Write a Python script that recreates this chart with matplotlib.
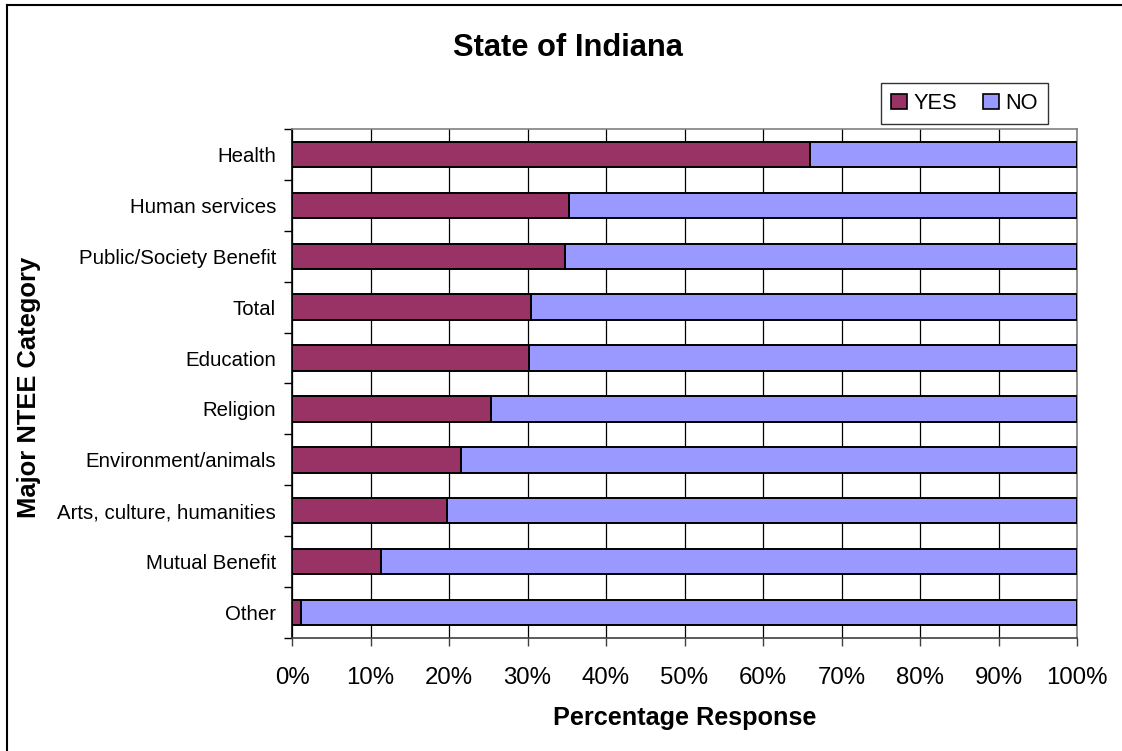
import matplotlib
matplotlib.use("Agg")
import matplotlib.pyplot as plt
from matplotlib.lines import Line2D
from matplotlib.patches import Patch
import numpy as np

plt.rcParams['font.family'] = ['Liberation Sans', 'DejaVu Sans']

# Survey responses by major NTEE category (percent of organisations)
categories = [
    "Health",
    "Human services",
    "Public/Society Benefit",
    "Total",
    "Education",
    "Religion",
    "Environment/animals",
    "Arts, culture, humanities",
    "Mutual Benefit",
    "Other",
]
yes_pct = [66.0, 35.3, 34.8, 30.5, 30.2, 25.3, 21.5, 19.8, 11.4, 1.1]
no_pct = [34.0, 64.7, 65.2, 69.5, 69.8, 74.7, 78.5, 80.2, 88.6, 98.9]
x_ticks = [0, 10, 20, 30, 40, 50, 60, 70, 80, 90, 100]
x_tick_labels = [f"{v}%" for v in x_ticks]

YES_COLOR = "#993366"
NO_COLOR = "#9999FF"

W, H = 1122, 751
fig = plt.figure(figsize=(W / 100, H / 100), dpi=100)
fig.patch.set_facecolor("white")

# plot area in pixel terms
left, right, top, bottom = 292, 1077, 129, 638
ax = fig.add_axes([left / W, 1 - bottom / H, (right - left) / W, (bottom - top) / H])

n = len(categories)
ypos = np.arange(n)[::-1]  # first category at the top
bar_h = 0.5

ax.barh(ypos, yes_pct, height=bar_h, color=YES_COLOR, edgecolor="black",
        linewidth=1.4, zorder=3)
ax.barh(ypos, no_pct, left=yes_pct, height=bar_h, color=NO_COLOR,
        edgecolor="black", linewidth=1.4, zorder=3)

ax.set_xlim(0, 100)
ax.set_ylim(-0.5, n - 0.5)

# x axis
ax.set_xticks(x_ticks)
ax.set_xticklabels(x_tick_labels, fontsize=17.3)
ax.tick_params(axis="x", direction="out", length=6, width=1, color="#404040",
               pad=15)
ax.xaxis.grid(True, color="black", linewidth=0.9, zorder=0)
ax.set_axisbelow(True)

# y axis: labels at centres, tick marks at category boundaries
ax.set_yticks(ypos)
ax.set_yticklabels(categories, fontsize=14.7)
ax.tick_params(axis="y", which="major", length=0, pad=11.5)
ax.set_yticks(np.arange(-0.5, n, 1.0), minor=True)
ax.tick_params(axis="y", which="minor", direction="out", length=6, width=1,
               color="black")

for side in ("top", "right"):
    ax.spines[side].set_color("#808080")
    ax.spines[side].set_linewidth(1.2)
ax.spines["left"].set_color("black")
ax.spines["left"].set_linewidth(1.2)
ax.spines["bottom"].set_color("#404040")
ax.spines["bottom"].set_linewidth(1.2)

ax.set_xlabel("Percentage Response", fontsize=18.2, fontweight="bold")
ax.xaxis.set_label_coords(0.5, -0.133)

fig.text(29 / W, 1 - 387 / H, "Major NTEE Category", rotation=90,
         fontsize=18.4, fontweight="bold", ha="center", va="center")

fig.text(568 / W, 1 - 56.5 / H, "State of Indiana", fontsize=22.2,
         fontweight="bold", ha="center", va="baseline")

handles = [
    Patch(facecolor=YES_COLOR, edgecolor="black", linewidth=1.2, label="YES"),
    Patch(facecolor=NO_COLOR, edgecolor="black", linewidth=1.2, label="NO"),
]
leg = fig.legend(handles=handles, loc="upper left",
                 bbox_to_anchor=(881 / W, 1 - 82.7 / H),
                 bbox_transform=fig.transFigure, ncol=2, fontsize=15.7,
                 frameon=True, fancybox=False, borderaxespad=0,
                 borderpad=0.47, handlelength=0.72, handleheight=0.72,
                 handletextpad=0.3, columnspacing=1.2)
leg.get_frame().set_edgecolor("black")
leg.get_frame().set_linewidth(1.0)

# outer frame (left and top edges)
fig.add_artist(Line2D([7 / W, 7 / W], [0, 1 - 5 / H], transform=fig.transFigure,
                      color="black", linewidth=1.5))
fig.add_artist(Line2D([7 / W, 1], [1 - 5 / H, 1 - 5 / H], transform=fig.transFigure,
                      color="black", linewidth=1.5))

fig.savefig("out.png", dpi=100, facecolor="white")
